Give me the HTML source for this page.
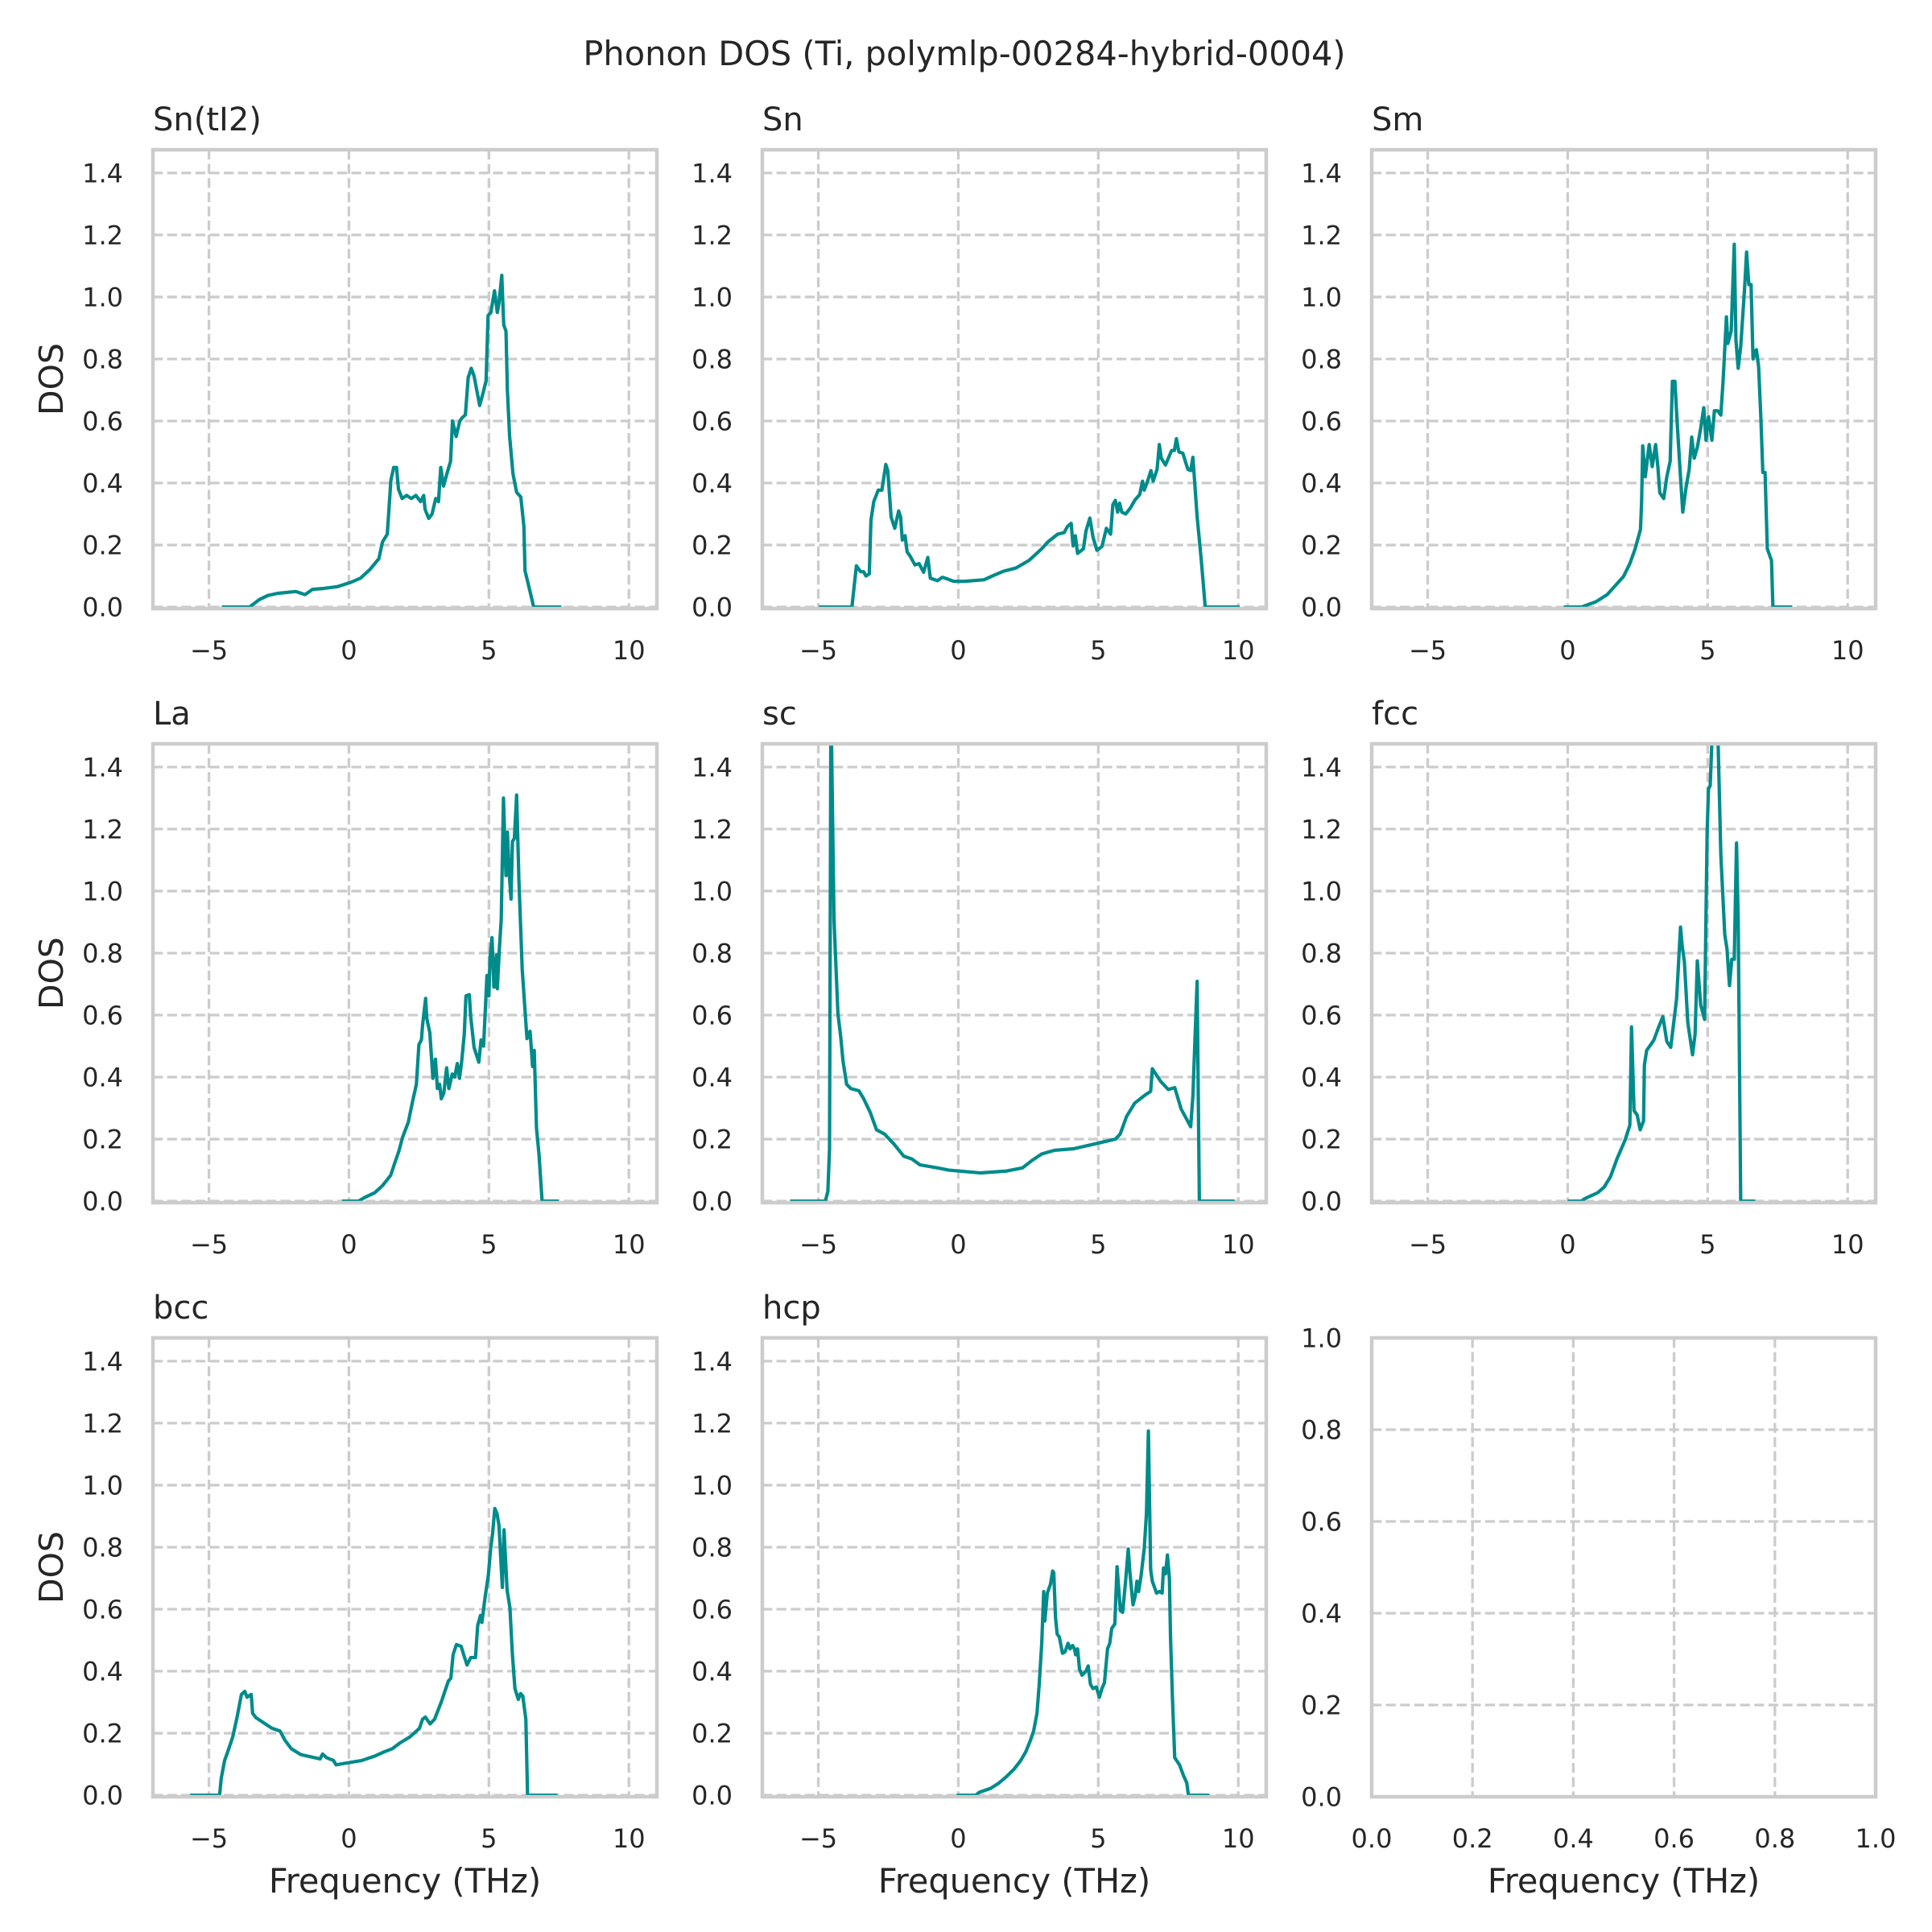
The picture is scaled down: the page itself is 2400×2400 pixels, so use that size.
<!DOCTYPE html>
<html>
<head>
<meta charset="utf-8">
<style>
  html, body { margin: 0; padding: 0; background: #ffffff; }
  svg { display: block; }
  text { font-family: "DejaVu Sans", "Liberation Sans", sans-serif; fill: #262626; }
</style>
</head>
<body>
<svg id="fig" width="2400" height="2400" viewBox="0 0 2400 2400" xmlns="http://www.w3.org/2000/svg">
  <rect x="0" y="0" width="2400" height="2400" fill="#ffffff"/>
  <text x="1198" y="81" text-anchor="middle" font-size="41.5">Phonon DOS (Ti, polymlp-00284-hybrid-0004)</text>
</svg>
<script>
// ---- chart data ----
const panelTitles = ["Sn(tI2)", "Sn", "Sm", "La", "sc", "fcc", "bcc", "hcp"];
const xTickValues = [-5, 0, 5, 10];
const xTickLabels = ["\u22125", "0", "5", "10"];
const yTickValues = [0, 0.2, 0.4, 0.6, 0.8, 1.0, 1.2, 1.4];
const yTickLabels = ["0.0", "0.2", "0.4", "0.6", "0.8", "1.0", "1.2", "1.4"];
const emptyTickValues = [0, 0.2, 0.4, 0.6, 0.8, 1.0];
const emptyTickLabels = ["0.0", "0.2", "0.4", "0.6", "0.8", "1.0"];

const freqSnTI2 = [-4.54,-3.55,-3.2,-2.9,-2.56,-1.9,-1.57,-1.3,-0.9,-0.4,0.08,0.41,0.74,1.07,1.2,1.37,1.5,1.6,1.7,1.77,1.9,2.06,2.23,2.39,2.56,2.67,2.72,2.85,2.97,3.1,3.2,3.28,3.38,3.5,3.63,3.7,3.83,3.96,4.04,4.16,4.26,4.37,4.47,4.67,4.79,4.9,4.97,5.07,5.2,5.3,5.36,5.46,5.53,5.61,5.66,5.74,5.86,5.99,6.14,6.25,6.29,6.47,6.6,7.59];
const dosSnTI2 = [0,0,0.024,0.037,0.044,0.05,0.04,0.057,0.06,0.066,0.08,0.093,0.12,0.156,0.21,0.235,0.41,0.45,0.45,0.38,0.35,0.36,0.35,0.36,0.34,0.36,0.315,0.286,0.3,0.35,0.34,0.45,0.39,0.43,0.47,0.6,0.55,0.6,0.61,0.62,0.74,0.77,0.745,0.65,0.69,0.73,0.94,0.95,1.02,0.95,0.98,1.07,0.91,0.89,0.7,0.55,0.43,0.37,0.355,0.26,0.117,0.05,0,0];

const freqSn = [-4.98,-3.8,-3.64,-3.49,-3.38,-3.3,-3.18,-3.12,-3.02,-2.86,-2.73,-2.59,-2.52,-2.4,-2.27,-2.13,-2.06,-2.0,-1.9,-1.83,-1.72,-1.55,-1.4,-1.24,-1.09,-1.0,-0.74,-0.57,-0.4,-0.17,0.23,0.92,1.26,1.6,2.06,2.52,2.69,2.98,3.2,3.55,3.78,3.9,4.03,4.1,4.18,4.26,4.47,4.56,4.7,4.81,4.95,5.13,5.29,5.44,5.52,5.61,5.69,5.76,5.84,5.98,6.15,6.3,6.48,6.58,6.64,6.76,6.88,6.96,7.1,7.18,7.25,7.4,7.62,7.72,7.79,7.88,8.02,8.2,8.3,8.38,8.53,8.68,8.82,10.05];
const dosSn = [0,0,0.133,0.114,0.114,0.1,0.107,0.28,0.34,0.377,0.377,0.46,0.44,0.29,0.254,0.31,0.29,0.216,0.23,0.178,0.164,0.136,0.14,0.112,0.16,0.093,0.085,0.096,0.091,0.083,0.083,0.088,0.102,0.115,0.126,0.15,0.164,0.188,0.21,0.235,0.24,0.26,0.27,0.197,0.23,0.173,0.188,0.245,0.287,0.226,0.183,0.195,0.254,0.235,0.33,0.344,0.306,0.335,0.306,0.3,0.32,0.344,0.363,0.406,0.377,0.406,0.44,0.406,0.444,0.524,0.48,0.458,0.505,0.505,0.543,0.5,0.496,0.444,0.44,0.483,0.292,0.15,0,0];

const freqSm = [-0.14,0.49,1.01,1.41,1.7,1.99,2.22,2.41,2.6,2.64,2.68,2.77,2.91,3.02,3.14,3.22,3.29,3.43,3.54,3.66,3.74,3.83,3.91,4.0,4.11,4.23,4.34,4.43,4.52,4.63,4.75,4.86,4.94,5.03,5.15,5.24,5.36,5.47,5.55,5.67,5.72,5.84,5.95,6.01,6.09,6.18,6.32,6.39,6.47,6.55,6.62,6.74,6.82,6.9,6.97,7.05,7.13,7.28,7.33,8.02];
const dosSm = [0,0,0.017,0.04,0.069,0.098,0.14,0.188,0.25,0.34,0.52,0.42,0.524,0.453,0.524,0.453,0.368,0.35,0.42,0.47,0.728,0.728,0.595,0.462,0.306,0.387,0.444,0.548,0.48,0.515,0.576,0.643,0.538,0.614,0.538,0.633,0.633,0.619,0.728,0.936,0.85,0.89,1.17,0.86,0.77,0.84,1.03,1.145,1.04,1.04,0.8,0.83,0.775,0.61,0.434,0.434,0.188,0.15,0,0];

const freqLa = [-0.25,0.34,0.57,0.92,1.2,1.49,1.63,1.78,1.92,2.12,2.27,2.41,2.5,2.59,2.63,2.74,2.78,2.89,3.0,3.09,3.16,3.24,3.3,3.39,3.49,3.57,3.69,3.78,3.87,3.95,4.03,4.12,4.18,4.3,4.35,4.47,4.64,4.72,4.81,4.89,4.93,5.0,5.04,5.11,5.18,5.27,5.3,5.38,5.44,5.52,5.61,5.66,5.73,5.79,5.84,5.91,5.99,6.07,6.19,6.36,6.47,6.56,6.62,6.7,6.79,6.9,7.5];
const dosLa = [0,0,0.012,0.027,0.05,0.083,0.121,0.16,0.207,0.254,0.32,0.377,0.505,0.52,0.567,0.654,0.59,0.543,0.396,0.458,0.363,0.377,0.33,0.349,0.43,0.363,0.41,0.4,0.444,0.396,0.453,0.538,0.662,0.666,0.595,0.496,0.448,0.52,0.5,0.652,0.728,0.662,0.785,0.85,0.69,0.794,0.685,0.823,0.908,1.3,1.05,1.19,1.05,0.974,1.16,1.17,1.31,1.04,0.747,0.524,0.548,0.434,0.486,0.235,0.15,0,0];

const freqSc = [-6.01,-4.75,-4.66,-4.6,-4.55,-4.44,-4.3,-4.2,-4.12,-3.99,-3.84,-3.55,-3.38,-3.15,-2.92,-2.63,-2.29,-1.95,-1.66,-1.37,-0.74,-0.34,0.8,1.72,2.29,2.63,2.98,3.44,4.12,5.04,5.61,5.78,6.01,6.3,6.7,6.87,6.93,7.22,7.5,7.73,7.96,8.3,8.38,8.53,8.61,9.87];
const dosSc = [0,0,0.031,0.169,1.62,0.908,0.605,0.53,0.453,0.377,0.363,0.356,0.33,0.287,0.23,0.216,0.183,0.145,0.136,0.117,0.107,0.1,0.091,0.097,0.107,0.131,0.152,0.164,0.169,0.188,0.2,0.216,0.273,0.316,0.344,0.354,0.427,0.387,0.36,0.366,0.297,0.24,0.34,0.709,0,0];

const freqFcc = [0,0.49,0.61,1.07,1.3,1.53,1.76,2.05,2.22,2.28,2.37,2.48,2.59,2.71,2.74,2.82,2.97,3.08,3.23,3.4,3.54,3.68,3.89,4.03,4.09,4.17,4.29,4.46,4.55,4.63,4.75,4.89,4.98,5.03,5.09,5.2,5.34,5.47,5.61,5.69,5.78,5.86,5.95,6.03,6.09,6.18,6.7];
const dosFcc = [0,0,0.008,0.027,0.045,0.079,0.136,0.197,0.245,0.562,0.292,0.278,0.23,0.259,0.439,0.486,0.505,0.52,0.557,0.595,0.515,0.496,0.652,0.884,0.823,0.77,0.576,0.472,0.538,0.775,0.633,0.586,1.19,1.33,1.34,1.6,1.6,1.117,0.86,0.813,0.695,0.78,0.78,1.155,0.908,0,0];

const freqBcc = [-5.67,-4.62,-4.56,-4.44,-4.33,-4.15,-3.99,-3.84,-3.72,-3.64,-3.49,-3.44,-3.32,-2.92,-2.75,-2.46,-2.29,-2.06,-1.72,-1.03,-0.94,-0.8,-0.55,-0.46,0.46,0.92,1.26,1.55,1.83,2.18,2.52,2.63,2.73,2.9,3.06,3.32,3.55,3.64,3.72,3.84,4.01,4.1,4.22,4.35,4.52,4.6,4.7,4.75,4.87,4.98,5.06,5.13,5.21,5.29,5.36,5.48,5.54,5.65,5.75,5.84,5.93,6.05,6.13,6.21,6.32,6.38,7.45];
const dosBcc = [0,0,0.055,0.112,0.14,0.188,0.254,0.325,0.335,0.316,0.325,0.264,0.25,0.226,0.216,0.207,0.178,0.15,0.131,0.117,0.133,0.121,0.112,0.098,0.112,0.126,0.14,0.15,0.169,0.188,0.216,0.245,0.252,0.23,0.245,0.306,0.368,0.377,0.453,0.486,0.48,0.453,0.42,0.444,0.444,0.548,0.58,0.557,0.643,0.709,0.794,0.842,0.925,0.908,0.87,0.67,0.856,0.662,0.605,0.453,0.344,0.309,0.328,0.32,0.245,0,0];

const freqHcp = [-0.06,0.63,0.74,1.15,1.43,1.72,2.0,2.23,2.41,2.58,2.69,2.81,2.89,2.98,3.05,3.09,3.18,3.29,3.37,3.41,3.47,3.53,3.61,3.72,3.81,3.92,3.99,4.08,4.15,4.19,4.26,4.33,4.42,4.56,4.64,4.72,4.81,4.93,5.04,5.13,5.22,5.33,5.41,5.48,5.59,5.67,5.79,5.87,5.97,6.07,6.13,6.24,6.32,6.38,6.44,6.53,6.64,6.72,6.79,6.87,6.93,7.01,7.08,7.19,7.28,7.33,7.4,7.47,7.54,7.58,7.65,7.73,7.9,8.04,8.16,8.22,8.96];
const dosHcp = [0,0,0.009,0.022,0.038,0.06,0.085,0.112,0.14,0.178,0.207,0.264,0.358,0.49,0.657,0.562,0.652,0.68,0.723,0.718,0.576,0.52,0.51,0.458,0.462,0.49,0.472,0.483,0.472,0.453,0.472,0.406,0.387,0.4,0.417,0.358,0.344,0.349,0.316,0.344,0.363,0.472,0.49,0.538,0.552,0.737,0.595,0.59,0.685,0.794,0.718,0.614,0.643,0.69,0.657,0.709,0.794,0.908,1.175,0.728,0.69,0.67,0.652,0.657,0.652,0.733,0.714,0.775,0.7,0.51,0.311,0.121,0.098,0.064,0.04,0,0];

const seriesFreq = [freqSnTI2, freqSn, freqSm, freqLa, freqSc, freqFcc, freqBcc, freqHcp];
const seriesDos = [dosSnTI2, dosSn, dosSm, dosLa, dosSc, dosFcc, dosBcc, dosHcp];

// ---- layout ----
const NS = "http://www.w3.org/2000/svg";
const svg = document.getElementById("fig");
const colLeft = [190, 947, 1704];
const rowTop = [186, 924, 1662];
const W = 626, H = 570;
const XMIN = -7, XMAX = 11, YMIN = -0.005, YMAX = 1.475;

function mk(tag, attrs, parent) {
  const el = document.createElementNS(NS, tag);
  for (const k in attrs) el.setAttribute(k, attrs[k]);
  (parent || svg).appendChild(el);
  return el;
}

const defs = mk("defs", {});

function drawAxes(idx, row, col, xmin, xmax, ymin, ymax, xt, xl, yt, yl) {
  const L = colLeft[col], T = rowTop[row];
  const sx = v => L + (v - xmin) / (xmax - xmin) * W;
  const sy = v => T + H - (v - ymin) / (ymax - ymin) * H;
  const g = mk("g", {});
  
  

  const grid = mk("g", {stroke: "#cccccc", "stroke-width": 3.3, "stroke-dasharray": "12.3 5.3", fill: "none"}, g);
  
  
  xt.forEach(v => {
    const ln = mk("line", {x1: sx(v), x2: sx(v), y1: T, y2: T + H}, grid);
    
    
  });
  yt.forEach(v => {
    const ln = mk("line", {x1: L, x2: L + W, y1: sy(v), y2: sy(v)}, grid);
    
    
  });

  xt.forEach((v, i) => {
    const t = mk("text", {x: sx(v), y: T + H + 63, "text-anchor": "middle", "font-size": 32}, g);
    t.textContent = xl[i];
    
    
  });
  yt.forEach((v, i) => {
    const t = mk("text", {x: L - 37, y: sy(v) + 11.5, "text-anchor": "end", "font-size": 32}, g);
    t.textContent = yl[i];
    
    
  });
  return {g, sx, sy, L, T};
}

for (let i = 0; i < 9; i++) {
  const row = Math.floor(i / 3), col = i % 3;
  let ax;
  if (i < 8) {
    ax = drawAxes(i, row, col, XMIN, XMAX, YMIN, YMAX, xTickValues, xTickLabels, yTickValues, yTickLabels);
    const cp = mk("clipPath", {id: "clip" + i}, defs);
    mk("rect", {x: ax.L, y: ax.T, width: W, height: H}, cp);
    let d = "";
    const fx = seriesFreq[i], fy = seriesDos[i];
    for (let k = 0; k < fx.length; k++) {
      d += (k ? "L" : "M") + ax.sx(fx[k]).toFixed(2) + "," + ax.sy(fy[k]).toFixed(2);
    }
    const p = mk("path", {d: d, fill: "none", stroke: "#008b8b", "stroke-width": 4.2, "stroke-linejoin": "round", "clip-path": "url(#clip" + i + ")"}, ax.g);
    
    
    const t = mk("text", {x: ax.L, y: ax.T - 24, "font-size": 40}, ax.g);
    t.textContent = panelTitles[i];
    
    
  } else {
    ax = drawAxes(i, row, col, 0, 1, 0, 1, emptyTickValues, emptyTickLabels, emptyTickValues, emptyTickLabels);
  }
  const sp = mk("rect", {x: ax.L, y: ax.T, width: W, height: H, fill: "none", stroke: "#cccccc", "stroke-width": 4.5}, ax.g);
  
  
  if (col === 0) {
    const cy = ax.T + H / 2;
    const t = mk("text", {x: 78, y: cy, "text-anchor": "middle", "font-size": 41, transform: "rotate(-90 78 " + cy + ")"}, ax.g);
    t.textContent = "DOS";
    
    
  }
  if (row === 2) {
    const t = mk("text", {x: ax.L + W / 2, y: 2351, "text-anchor": "middle", "font-size": 41.5}, ax.g);
    t.textContent = "Frequency (THz)";
    
    
  }
}
</script>
</body>
</html>
